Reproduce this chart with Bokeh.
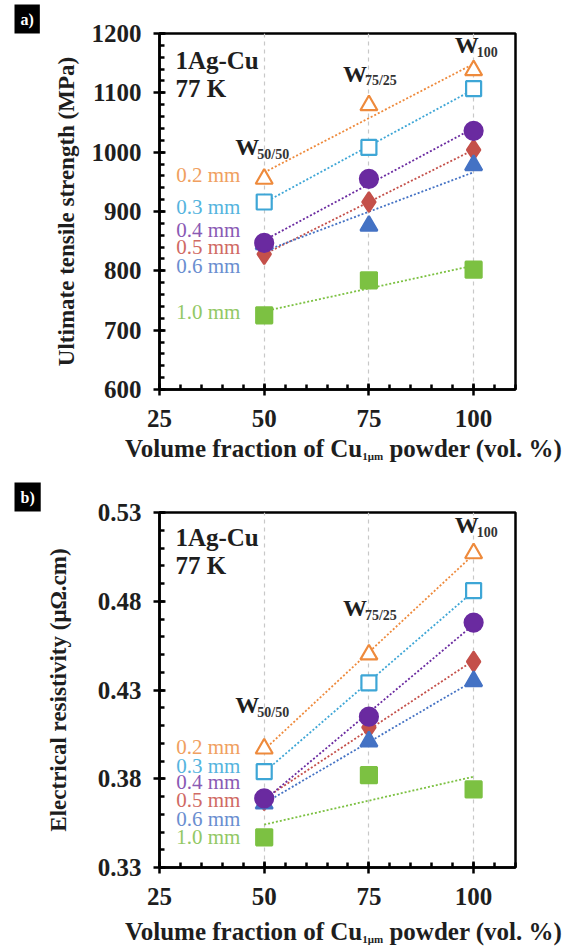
import numpy as np
from bokeh.plotting import figure
from bokeh.layouts import column
from bokeh.models import Label, Title, FixedTicker, NumeralTickFormatter, ColumnDataSource, Div
from bokeh.embed import file_html
from bokeh.resources import INLINE

# ---------------- data ----------------
volume = [50, 75, 100]
size_labels = ["0.2 mm", "0.3 mm", "0.4 mm", "0.5 mm", "0.6 mm", "1.0 mm"]

uts_02 = [955, 1079, 1138]
uts_03 = [916, 1008, 1107]
uts_04 = [847, 955, 1036]
uts_05 = [828, 916, 1004]
uts_06 = [845, 876, 978]
uts_10 = [725, 784, 802]

res_02 = [0.397, 0.450, 0.507]
res_03 = [0.384, 0.434, 0.486]
res_04 = [0.369, 0.415, 0.468]
res_05 = [0.368, 0.409, 0.446]
res_06 = [0.366, 0.401, 0.435]
res_10 = [0.347, 0.382, 0.374]

uts_yticks = [600, 700, 800, 900, 1000, 1100, 1200]
res_yticks = [0.33, 0.38, 0.43, 0.48, 0.53]
x_ticks = [25, 50, 75, 100]

# ---------------- styles ----------------
FONT = "Liberation Serif"
DARK = "#1e1e1e"
colors = {
    "0.2 mm": "#EE8A3C",
    "0.3 mm": "#3EA6D6",
    "0.4 mm": "#6A2AA0",
    "0.5 mm": "#C4504A",
    "0.6 mm": "#4472C4",
    "1.0 mm": "#7CC142",
}
text_colors = {
    "0.2 mm": "#F0A060",
    "0.3 mm": "#55B4DE",
    "0.4 mm": "#8A5AB4",
    "0.5 mm": "#D06A64",
    "0.6 mm": "#6A8ED0",
    "1.0 mm": "#92C865",
}
markers = {
    "0.2 mm": ("triangle", False, 17),
    "0.3 mm": ("square", False, 15),
    "0.4 mm": ("circle", True, 18),
    "0.5 mm": ("diamond", True, 20),
    "0.6 mm": ("triangle", True, 17),
    "1.0 mm": ("square", True, 16),
}
draw_order = ["1.0 mm", "0.5 mm", "0.6 mm", "0.4 mm", "0.3 mm", "0.2 mm"]
WIDTH = 574


def make_panel(series, y_range, yticks, yminor, ylabel, height, top, bottom,
               letter, letter_standoff, label_y, w_pos, note_y, ylabel_standoff, fmt):
    p = figure(width=WIDTH, height=height, x_range=(25, 110), y_range=y_range,
               output_backend="svg", toolbar_location=None,
               min_border_left=159, min_border_right=59,
               min_border_top=top, min_border_bottom=bottom)
    p.background_fill_color = "white"
    p.border_fill_color = "white"
    p.outline_line_color = "black"
    p.outline_line_width = 2.5
    p.outline_line_alpha = 1.0

    p.ygrid.grid_line_color = None
    p.xgrid.ticker = FixedTicker(ticks=volume)
    p.xgrid.grid_line_color = "#c8c8c8"
    p.xgrid.grid_line_dash = "4 4"
    p.xgrid.grid_line_width = 1.2

    p.xaxis.ticker = FixedTicker(ticks=x_ticks, minor_ticks=list(range(25, 111, 5)))
    p.yaxis.ticker = FixedTicker(ticks=yticks, minor_ticks=yminor)
    p.yaxis.formatter = fmt
    for ax in (p.xaxis[0], p.yaxis[0]):
        ax.axis_line_width = 2.5
        ax.axis_line_color = "black"
        ax.major_tick_in = 6
        ax.major_tick_out = 6
        ax.major_tick_line_width = 2.5
        ax.minor_tick_in = 5
        ax.minor_tick_out = 0
        ax.minor_tick_line_width = 2.5
        ax.major_label_text_font = FONT
        ax.major_label_text_font_style = "bold"
        ax.major_label_text_font_size = "25px"
        ax.major_label_text_color = DARK
    p.xaxis.major_label_standoff = 14
    p.yaxis.major_label_standoff = 12
    p.yaxis.axis_label = ylabel
    p.yaxis.axis_label_text_font = FONT
    p.yaxis.axis_label_text_font_style = "bold"
    p.yaxis.axis_label_text_font_size = "23px"
    p.yaxis.axis_label_text_color = DARK
    p.yaxis.axis_label_standoff = ylabel_standoff

    # panel letter as a boxed title
    p.add_layout(Title(text=letter, align="left", offset=-145,
                       standoff=letter_standoff, text_font=FONT,
                       text_font_style="bold", text_font_size="16px",
                       text_color="white", background_fill_color="black",
                       padding=6), "above")

    # trend lines (linear fits of the data)
    for name in draw_order:
        ys = series[name]
        k, b = np.polyfit(volume, ys, 1)
        xs = [volume[0], volume[-1]]
        p.line(xs, [k * x + b for x in xs], line_color=colors[name],
               line_width=1.8, line_dash="2 2")

    # markers
    for name in draw_order:
        m, filled, sz = markers[name]
        src = ColumnDataSource(dict(x=volume, y=series[name]))
        p.scatter("x", "y", source=src, marker=m, size=sz,
                  line_color=colors[name], line_width=2.2,
                  fill_color=colors[name] if filled else "white")

    # size labels
    for name, yy in zip(size_labels, label_y):
        p.add_layout(Label(x=44.3, y=yy, text=name, text_align="right",
                           text_baseline="middle", text_font=FONT,
                           text_font_size="21px", text_color=text_colors[name]))

    # W labels
    for (main, sub), (xx, yy) in zip([("W", "50/50"), ("W", "75/25"), ("W", "100")], w_pos):
        p.add_layout(Label(x=xx, y=yy, text=main, text_align="left",
                           text_baseline="middle", text_font=FONT,
                           text_font_style="bold", text_font_size="24px",
                           text_color=DARK))
        p.add_layout(Label(x=xx, y=yy, x_offset=22, y_offset=-7, text=sub,
                           text_align="left", text_baseline="middle",
                           text_font=FONT, text_font_style="bold",
                           text_font_size="14px", text_color="#333333"))

    # alloy / temperature note
    for txt, yy in zip(["1Ag-Cu", "77 K"], note_y):
        p.add_layout(Label(x=28.8, y=yy, text=txt, text_align="left",
                           text_baseline="middle", text_font=FONT,
                           text_font_style="bold", text_font_size="25px",
                           text_color=DARK))
    return p


def make_xlabel(height, pad_top):
    html = ('<div style="font-family: \'Liberation Serif\', serif; font-weight: bold; '
            'font-size: 25px; color: #1e1e1e; white-space: nowrap; line-height: 26px; '
            'padding-left: 125px; padding-top: %dpx;">'
            'Volume fraction of Cu<sub style="font-size: 11px; vertical-align: -3px;">1μm</sub>'
            ' powder (vol. %%)</div>' % pad_top)
    return Div(text=html, width=WIDTH, height=height, margin=(0, 0, 0, 0))


uts_series = {"0.2 mm": uts_02, "0.3 mm": uts_03, "0.4 mm": uts_04,
              "0.5 mm": uts_05, "0.6 mm": uts_06, "1.0 mm": uts_10}
res_series = {"0.2 mm": res_02, "0.3 mm": res_03, "0.4 mm": res_04,
              "0.5 mm": res_05, "0.6 mm": res_06, "1.0 mm": res_10}

pa = make_panel(uts_series, (600, 1200), uts_yticks, list(range(600, 1201, 20)),
                "Ultimate tensile strength (MPa)", 436, 33, 47, "a)", 0,
                [961, 907, 868, 840, 808, 730],
                [(43.1, 1008), (68.8, 1132), (95.5, 1180)],
                (1154, 1107), 10, NumeralTickFormatter(format="0"))
sa = make_xlabel(34, 0)

pb = make_panel(res_series, (0.33, 0.53), res_yticks,
                [round(0.33 + 0.01 * i, 2) for i in range(21)],
                "Electrical resistivity (μΩ.cm)", 439, 42, 42, "b)", 2,
                [0.398, 0.387, 0.378, 0.368, 0.3575, 0.347],
                [(43.1, 0.4213), (68.8, 0.476), (95.5, 0.5227)],
                (0.516, 0.500), 24, NumeralTickFormatter(format="0.00"))
sb = make_xlabel(38, 10)

layout = column(pa, sa, pb, sb, spacing=0)
open("out.html", "w").write(file_html(layout, INLINE))
